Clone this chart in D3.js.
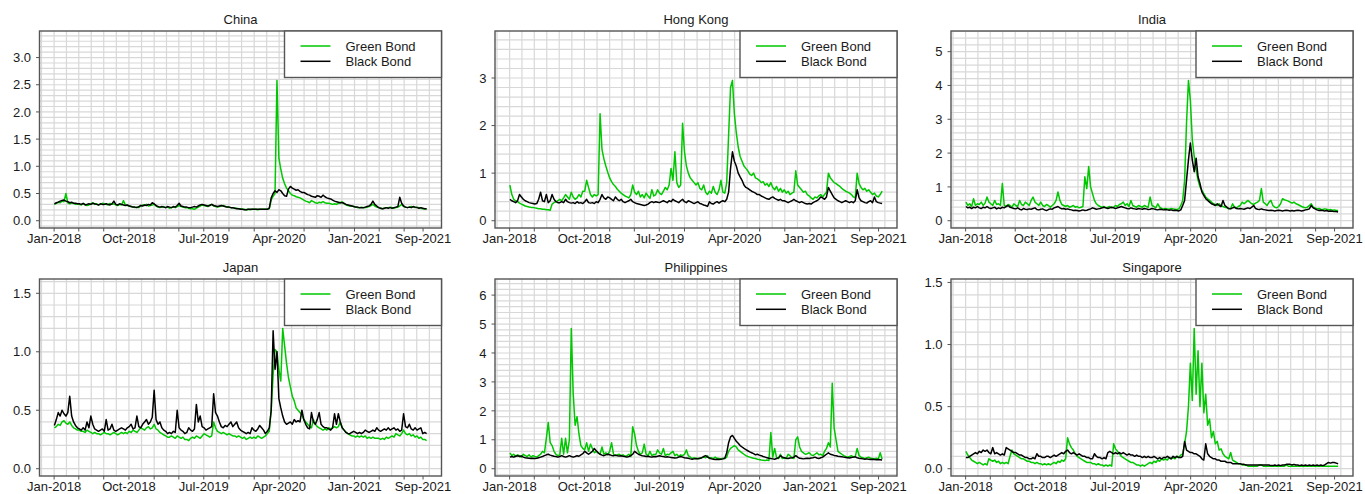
<!DOCTYPE html>
<html>
<head>
<meta charset="utf-8">
<script src="https://cdn.jsdelivr.net/npm/d3@7"></script>
<style>
  html, body { margin: 0; padding: 0; background: #fff; }
  svg { display: block; font-family: "Liberation Sans", Arial, sans-serif; }
</style>
</head>
<body>
<svg id="chart" width="1365" height="494"></svg>
<script>
// ============================================
// DATA (weekly readings, 2018-01-02 .. 2021-09-21)
// ============================================

const firstObs = new Date(2018, 0, 2);
const weeks = d3.range(195).map(i => d3.timeDay.offset(firstObs, 7 * i));

const titles = ['China', 'Hong Kong', 'India', 'Japan', 'Philippines', 'Singapore'];
const yTickStep = [0.5, 1, 1, 0.5, 1, 0.5];
const yTickDecimals = [1, 0, 0, 1, 0, 1];

const xLabelText = ['Jan-2018', 'Oct-2018', 'Jul-2019', 'Apr-2020', 'Jan-2021', 'Sep-2021'];
const xLabelDates = ['2018-01-01', '2018-10-01', '2019-07-01', '2020-04-01', '2021-01-01', '2021-09-08'];

const legendLabels = ['Green Bond', 'Black Bond'];

const chinaGreen = [
  0.30,0.32,0.34,0.33,0.36,0.35,0.50,0.33,0.31,0.33,0.32,0.30,0.31,
  0.30,0.29,0.31,0.30,0.28,0.29,0.31,0.33,0.30,0.31,0.29,0.30,0.32,
  0.31,0.30,0.29,0.32,0.30,0.31,0.29,0.28,0.30,0.29,0.37,0.29,0.28,
  0.27,0.26,0.25,0.24,0.25,0.24,0.27,0.29,0.28,0.30,0.27,0.28,0.29,
  0.30,0.27,0.25,0.24,0.25,0.26,0.24,0.25,0.23,0.24,0.25,0.24,0.26,
  0.28,0.26,0.25,0.24,0.24,0.23,0.22,0.22,0.21,0.23,0.25,0.27,0.29,
  0.28,0.27,0.26,0.29,0.30,0.27,0.26,0.25,0.26,0.27,0.28,0.26,0.25,
  0.25,0.24,0.24,0.23,0.23,0.22,0.22,0.21,0.21,0.20,0.21,0.20,0.21,
  0.21,0.21,0.20,0.21,0.21,0.21,0.21,0.21,0.22,0.38,0.45,0.50,2.58,
  1.15,0.95,0.78,0.68,0.60,0.55,0.50,0.47,0.46,0.44,0.43,0.42,0.40,
  0.38,0.36,0.35,0.33,0.37,0.35,0.33,0.32,0.34,0.33,0.35,0.33,0.32,
  0.32,0.31,0.30,0.31,0.30,0.32,0.33,0.35,0.31,0.29,0.28,0.27,0.27,
  0.26,0.25,0.24,0.24,0.25,0.24,0.24,0.25,0.26,0.28,0.30,0.27,0.25,
  0.24,0.23,0.22,0.23,0.24,0.24,0.25,0.24,0.23,0.24,0.25,0.27,0.30,
  0.26,0.25,0.24,0.25,0.26,0.25,0.24,0.25,0.24,0.23,0.22,0.22,0.21
];
const chinaBlack = [
  0.31,0.33,0.34,0.36,0.37,0.38,0.36,0.35,0.33,0.34,0.32,0.32,0.31,
  0.31,0.30,0.32,0.29,0.30,0.31,0.30,0.32,0.31,0.30,0.29,0.31,0.30,
  0.30,0.31,0.30,0.29,0.31,0.36,0.30,0.29,0.31,0.30,0.29,0.28,0.29,
  0.27,0.26,0.25,0.25,0.24,0.26,0.28,0.27,0.29,0.28,0.30,0.29,0.33,
  0.31,0.28,0.26,0.25,0.26,0.25,0.24,0.26,0.25,0.24,0.26,0.25,0.28,
  0.32,0.27,0.26,0.25,0.25,0.24,0.24,0.25,0.26,0.25,0.27,0.29,0.30,
  0.29,0.28,0.27,0.28,0.30,0.28,0.27,0.26,0.27,0.28,0.27,0.26,0.25,
  0.25,0.24,0.24,0.23,0.22,0.22,0.21,0.21,0.20,0.20,0.21,0.21,0.21,
  0.21,0.21,0.21,0.21,0.21,0.21,0.21,0.21,0.23,0.42,0.50,0.55,0.52,
  0.57,0.55,0.50,0.46,0.45,0.58,0.63,0.60,0.58,0.56,0.57,0.54,0.52,
  0.52,0.50,0.48,0.47,0.45,0.44,0.43,0.46,0.45,0.43,0.47,0.44,0.42,
  0.41,0.40,0.38,0.36,0.35,0.34,0.33,0.33,0.32,0.30,0.29,0.28,0.27,
  0.26,0.25,0.25,0.24,0.24,0.24,0.25,0.26,0.27,0.30,0.36,0.30,0.27,
  0.24,0.23,0.22,0.23,0.24,0.23,0.24,0.23,0.24,0.25,0.26,0.43,0.32,
  0.27,0.25,0.24,0.25,0.24,0.26,0.25,0.24,0.23,0.24,0.23,0.22,0.22
];

const hongKongGreen = [
  0.75,0.55,0.45,0.42,0.40,0.37,0.35,0.33,0.31,0.30,0.29,0.28,0.28,
  0.27,0.26,0.25,0.25,0.24,0.24,0.23,0.23,0.22,0.35,0.38,0.40,0.42,
  0.45,0.42,0.48,0.55,0.50,0.45,0.60,0.50,0.45,0.48,0.55,0.50,0.62,
  0.62,0.85,0.70,0.55,0.50,0.55,0.52,0.55,2.25,1.50,1.30,1.15,1.02,
  0.90,0.82,0.76,0.72,0.66,0.62,0.58,0.55,0.52,0.50,0.48,0.55,0.75,
  0.60,0.55,0.62,0.50,0.55,0.48,0.58,0.52,0.47,0.65,0.52,0.55,0.65,
  0.58,0.55,0.62,0.70,0.65,0.75,1.10,0.85,1.45,0.80,0.70,0.75,2.05,
  1.45,1.15,1.00,0.90,0.85,0.80,0.75,0.80,0.68,0.65,0.75,0.60,0.55,
  0.62,0.58,0.72,0.60,0.55,0.65,0.85,0.60,0.58,0.80,1.80,2.80,2.95,
  2.25,1.85,1.55,1.35,1.25,1.15,1.10,1.05,0.98,0.95,1.00,0.90,0.88,
  0.85,0.80,0.82,0.75,0.78,0.72,0.80,0.70,0.65,0.72,0.62,0.68,0.60,
  0.65,0.58,0.62,0.55,0.58,0.60,1.05,0.75,0.70,0.65,0.60,0.62,0.55,
  0.52,0.48,0.45,0.50,0.48,0.52,0.55,0.50,0.55,0.60,1.00,0.90,0.85,
  0.80,0.78,0.75,0.72,0.68,0.65,0.62,0.60,0.58,0.55,0.50,0.48,1.00,
  0.78,0.70,0.65,0.68,0.62,0.65,0.60,0.55,0.58,0.52,0.50,0.55,0.62
];
const hongKongBlack = [
  0.45,0.42,0.40,0.38,0.42,0.55,0.50,0.45,0.42,0.40,0.38,0.37,0.36,
  0.35,0.36,0.45,0.60,0.42,0.40,0.55,0.38,0.42,0.55,0.45,0.40,0.38,
  0.38,0.40,0.38,0.45,0.40,0.38,0.37,0.38,0.36,0.40,0.37,0.38,0.36,
  0.40,0.45,0.38,0.37,0.38,0.36,0.40,0.38,0.45,0.55,0.48,0.45,0.50,
  0.48,0.45,0.42,0.50,0.45,0.42,0.45,0.40,0.38,0.40,0.42,0.45,0.40,
  0.38,0.36,0.35,0.34,0.33,0.32,0.33,0.35,0.38,0.40,0.38,0.40,0.39,
  0.38,0.40,0.42,0.40,0.38,0.42,0.40,0.45,0.42,0.40,0.38,0.42,0.45,
  0.40,0.38,0.42,0.40,0.38,0.36,0.38,0.40,0.36,0.35,0.33,0.32,0.30,
  0.40,0.36,0.35,0.38,0.40,0.37,0.40,0.42,0.40,0.45,0.60,1.10,1.45,
  1.25,1.15,1.00,0.92,0.85,0.75,0.70,0.68,0.65,0.62,0.60,0.58,0.55,
  0.55,0.52,0.50,0.48,0.46,0.45,0.48,0.50,0.47,0.45,0.43,0.45,0.42,
  0.42,0.40,0.38,0.40,0.42,0.45,0.42,0.40,0.38,0.40,0.38,0.36,0.35,
  0.36,0.35,0.38,0.40,0.42,0.45,0.50,0.48,0.45,0.50,0.70,0.62,0.55,
  0.48,0.45,0.42,0.40,0.38,0.40,0.42,0.40,0.38,0.40,0.38,0.42,0.65,
  0.48,0.42,0.40,0.38,0.37,0.40,0.42,0.38,0.50,0.40,0.38,0.37,0.36
];

const indiaGreen = [
  0.55,0.45,0.50,0.42,0.65,0.45,0.50,0.48,0.55,0.45,0.52,0.70,0.55,
  0.50,0.45,0.60,0.48,0.50,0.45,1.10,0.45,0.42,0.48,0.45,0.40,0.50,
  0.45,0.42,0.60,0.48,0.45,0.55,0.50,0.45,0.60,0.70,0.55,0.50,0.45,
  0.55,0.45,0.42,0.48,0.45,0.40,0.45,0.50,0.60,0.85,0.60,0.48,0.45,
  0.42,0.45,0.40,0.42,0.45,0.40,0.42,0.38,0.40,0.42,1.30,0.95,1.60,
  1.00,0.80,0.60,0.50,0.45,0.42,0.40,0.42,0.38,0.40,0.42,0.38,0.40,
  0.45,0.42,0.48,0.50,0.55,0.45,0.50,0.42,0.60,0.45,0.42,0.40,0.45,
  0.42,0.40,0.45,0.42,0.40,0.70,0.45,0.42,0.38,0.50,0.40,0.36,0.35,
  0.36,0.35,0.34,0.36,0.35,0.34,0.33,0.35,0.45,0.60,1.20,2.90,4.15,
  3.55,2.40,1.90,1.50,1.20,1.00,0.90,0.80,0.70,0.65,0.60,0.55,0.50,
  0.48,0.45,0.50,0.45,0.42,0.40,0.38,0.35,0.36,0.50,0.40,0.38,0.42,
  0.45,0.55,0.50,0.55,0.60,0.55,0.50,0.48,0.52,0.55,0.60,0.95,0.55,
  0.50,0.45,0.55,0.60,0.45,0.40,0.38,0.42,0.50,0.65,0.62,0.60,0.58,
  0.55,0.52,0.55,0.50,0.48,0.45,0.42,0.40,0.38,0.40,0.45,0.50,0.40,
  0.38,0.35,0.36,0.34,0.33,0.35,0.34,0.32,0.33,0.31,0.32,0.30,0.30
];
const indiaBlack = [
  0.42,0.38,0.40,0.36,0.40,0.38,0.42,0.38,0.36,0.40,0.38,0.42,0.38,
  0.36,0.38,0.40,0.35,0.38,0.36,0.40,0.38,0.42,0.45,0.40,0.38,0.36,
  0.35,0.38,0.34,0.32,0.36,0.34,0.33,0.35,0.34,0.36,0.38,0.33,0.32,
  0.34,0.35,0.32,0.30,0.33,0.35,0.34,0.38,0.40,0.42,0.38,0.35,0.36,
  0.34,0.35,0.33,0.32,0.30,0.31,0.30,0.29,0.30,0.32,0.30,0.31,0.33,
  0.35,0.38,0.36,0.34,0.35,0.36,0.38,0.40,0.38,0.36,0.38,0.40,0.38,
  0.36,0.38,0.40,0.42,0.40,0.38,0.36,0.35,0.38,0.36,0.35,0.34,0.36,
  0.35,0.34,0.36,0.35,0.33,0.34,0.36,0.35,0.33,0.32,0.34,0.33,0.32,
  0.33,0.32,0.31,0.32,0.30,0.31,0.30,0.29,0.32,0.45,0.60,1.20,1.80,
  2.30,1.80,1.45,1.85,1.30,1.10,0.85,0.75,0.65,0.60,0.55,0.50,0.48,
  0.45,0.50,0.45,0.42,0.60,0.45,0.40,0.36,0.35,0.38,0.40,0.36,0.35,
  0.36,0.35,0.34,0.36,0.38,0.36,0.40,0.45,0.36,0.34,0.33,0.35,0.33,
  0.32,0.31,0.30,0.31,0.30,0.29,0.30,0.31,0.30,0.29,0.30,0.31,0.30,
  0.29,0.30,0.29,0.30,0.31,0.30,0.29,0.30,0.32,0.33,0.35,0.45,0.38,
  0.35,0.32,0.30,0.31,0.30,0.29,0.30,0.28,0.29,0.28,0.27,0.27,0.26
];

const japanGreen = [
  0.35,0.36,0.38,0.37,0.40,0.41,0.39,0.38,0.40,0.37,0.35,0.34,0.33,
  0.33,0.32,0.32,0.31,0.33,0.32,0.31,0.30,0.31,0.30,0.30,0.29,0.30,
  0.31,0.30,0.30,0.29,0.30,0.31,0.30,0.29,0.30,0.31,0.30,0.31,0.30,
  0.32,0.31,0.33,0.32,0.31,0.33,0.35,0.34,0.33,0.35,0.36,0.34,0.35,
  0.38,0.34,0.33,0.31,0.30,0.29,0.28,0.27,0.27,0.28,0.27,0.26,0.28,
  0.27,0.26,0.27,0.25,0.25,0.24,0.26,0.27,0.26,0.28,0.27,0.26,0.28,
  0.30,0.29,0.28,0.27,0.28,0.40,0.35,0.32,0.31,0.30,0.31,0.30,0.29,
  0.30,0.29,0.28,0.28,0.27,0.28,0.27,0.26,0.27,0.25,0.26,0.27,0.26,
  0.27,0.26,0.28,0.27,0.26,0.27,0.28,0.30,0.32,0.50,0.80,1.02,1.00,
  0.85,0.75,1.20,1.05,0.90,0.78,0.70,0.62,0.58,0.52,0.50,0.48,0.46,
  0.42,0.40,0.38,0.36,0.35,0.42,0.38,0.36,0.35,0.34,0.33,0.34,0.33,
  0.35,0.34,0.35,0.36,0.35,0.36,0.40,0.35,0.33,0.31,0.30,0.29,0.28,
  0.28,0.27,0.28,0.27,0.28,0.27,0.28,0.26,0.27,0.26,0.27,0.26,0.26,
  0.26,0.25,0.26,0.25,0.27,0.26,0.27,0.28,0.27,0.30,0.29,0.28,0.30,
  0.33,0.30,0.29,0.30,0.28,0.29,0.27,0.28,0.26,0.27,0.25,0.25,0.24
];
const japanBlack = [
  0.37,0.42,0.48,0.45,0.50,0.47,0.45,0.48,0.62,0.45,0.40,0.37,0.35,
  0.34,0.33,0.35,0.33,0.40,0.35,0.45,0.38,0.34,0.33,0.32,0.33,0.34,
  0.32,0.42,0.33,0.34,0.38,0.33,0.32,0.33,0.34,0.35,0.34,0.33,0.35,
  0.36,0.38,0.34,0.35,0.45,0.36,0.35,0.38,0.40,0.42,0.38,0.40,0.44,
  0.67,0.42,0.38,0.40,0.35,0.33,0.32,0.30,0.31,0.30,0.32,0.31,0.50,
  0.35,0.33,0.32,0.30,0.31,0.35,0.33,0.32,0.34,0.55,0.40,0.45,0.36,
  0.35,0.33,0.34,0.35,0.36,0.64,0.48,0.45,0.40,0.36,0.35,0.37,0.36,
  0.38,0.40,0.36,0.38,0.40,0.35,0.33,0.32,0.31,0.30,0.31,0.30,0.35,
  0.33,0.32,0.34,0.37,0.35,0.33,0.30,0.32,0.35,0.50,1.18,0.85,1.00,
  0.60,0.52,0.45,0.40,0.38,0.39,0.40,0.38,0.42,0.40,0.41,0.40,0.50,
  0.42,0.38,0.35,0.34,0.48,0.40,0.38,0.42,0.48,0.38,0.36,0.35,0.35,
  0.34,0.33,0.35,0.47,0.38,0.47,0.40,0.35,0.33,0.31,0.30,0.30,0.31,
  0.32,0.31,0.30,0.31,0.30,0.31,0.33,0.32,0.31,0.32,0.33,0.32,0.35,
  0.33,0.32,0.33,0.34,0.33,0.35,0.33,0.34,0.35,0.33,0.34,0.32,0.33,
  0.47,0.36,0.35,0.38,0.34,0.33,0.35,0.33,0.34,0.35,0.30,0.31,0.30
];

const philippinesGreen = [
  0.55,0.45,0.50,0.42,0.48,0.45,0.40,0.50,0.45,0.42,0.48,0.40,0.45,
  0.42,0.40,0.45,0.50,0.60,0.55,1.05,1.60,0.90,0.80,0.60,0.50,0.45,
  0.48,1.05,0.50,1.05,0.55,1.00,4.85,2.60,1.50,1.80,1.20,0.80,0.70,
  0.65,0.90,0.60,0.85,0.70,0.55,0.60,0.55,0.50,0.75,0.50,0.55,0.48,
  0.60,0.90,0.50,0.45,0.48,0.50,0.45,0.48,0.42,0.45,0.50,0.42,1.45,
  1.20,0.80,0.60,0.50,0.55,0.85,0.50,0.45,0.60,0.45,0.50,0.48,0.65,
  0.55,0.50,0.70,0.45,0.50,0.48,0.55,0.60,0.45,0.50,0.42,0.48,0.45,
  0.50,0.65,0.45,0.40,0.35,0.38,0.35,0.36,0.35,0.38,0.40,0.38,0.45,
  0.35,0.38,0.35,0.40,0.36,0.35,0.34,0.36,0.35,0.40,0.60,0.70,0.75,
  0.80,0.75,0.65,0.60,0.55,0.50,0.45,0.42,0.40,0.38,0.36,0.35,0.33,
  0.32,0.30,0.29,0.28,0.30,0.28,1.25,0.40,0.70,0.38,0.35,0.50,0.35,
  0.38,0.35,0.50,0.45,0.38,0.35,1.00,1.10,0.75,0.60,0.55,0.50,0.52,
  0.55,0.48,0.45,0.50,0.55,0.48,0.50,0.45,0.60,0.70,0.90,0.75,2.95,
  1.40,1.00,0.60,0.55,0.50,0.45,0.42,0.40,0.42,0.45,0.40,0.42,0.70,
  0.45,0.40,0.38,0.35,0.38,0.40,0.36,0.35,0.34,0.36,0.33,0.55,0.33
];
const philippinesBlack = [
  0.40,0.42,0.40,0.43,0.45,0.42,0.44,0.40,0.38,0.37,0.36,0.35,0.36,
  0.35,0.36,0.38,0.40,0.42,0.45,0.48,0.50,0.47,0.45,0.43,0.42,0.40,
  0.42,0.45,0.42,0.40,0.42,0.45,0.42,0.40,0.42,0.45,0.43,0.48,0.52,
  0.60,0.55,0.50,0.55,0.60,0.70,0.62,0.55,0.50,0.47,0.45,0.48,0.50,
  0.48,0.46,0.45,0.47,0.45,0.44,0.45,0.43,0.42,0.40,0.42,0.45,0.50,
  0.60,0.55,0.50,0.47,0.45,0.44,0.42,0.43,0.41,0.40,0.42,0.41,0.43,
  0.45,0.43,0.42,0.40,0.41,0.40,0.39,0.38,0.37,0.38,0.40,0.42,0.40,
  0.38,0.37,0.36,0.34,0.33,0.34,0.35,0.34,0.36,0.38,0.42,0.45,0.40,
  0.37,0.34,0.33,0.32,0.33,0.32,0.33,0.34,0.36,0.55,0.90,1.10,1.15,
  1.05,0.95,0.88,0.80,0.75,0.70,0.66,0.62,0.58,0.55,0.52,0.48,0.50,
  0.47,0.45,0.42,0.40,0.38,0.36,0.35,0.34,0.33,0.35,0.38,0.45,0.40,
  0.38,0.36,0.35,0.37,0.38,0.40,0.45,0.40,0.36,0.35,0.34,0.35,0.36,
  0.35,0.37,0.38,0.40,0.37,0.35,0.38,0.40,0.45,0.50,0.55,0.50,0.48,
  0.46,0.45,0.43,0.42,0.41,0.40,0.39,0.38,0.37,0.39,0.40,0.41,0.38,
  0.36,0.35,0.34,0.33,0.34,0.33,0.32,0.33,0.32,0.31,0.32,0.31,0.30
];

const singaporeGreen = [
  0.14,0.11,0.09,0.07,0.06,0.05,0.04,0.05,0.04,0.03,0.04,0.03,0.08,
  0.07,0.06,0.07,0.05,0.06,0.04,0.05,0.04,0.05,0.04,0.10,0.15,0.12,
  0.11,0.10,0.09,0.08,0.08,0.07,0.06,0.06,0.05,0.05,0.04,0.05,0.04,
  0.04,0.03,0.04,0.03,0.04,0.03,0.04,0.05,0.04,0.06,0.05,0.07,0.06,
  0.08,0.25,0.20,0.17,0.15,0.12,0.10,0.09,0.08,0.07,0.06,0.05,0.05,
  0.05,0.04,0.04,0.03,0.04,0.03,0.03,0.02,0.03,0.02,0.03,0.02,0.20,
  0.16,0.14,0.12,0.10,0.09,0.08,0.07,0.06,0.05,0.05,0.04,0.03,0.03,
  0.02,0.03,0.02,0.03,0.04,0.05,0.04,0.06,0.05,0.07,0.06,0.08,0.07,
  0.08,0.07,0.09,0.08,0.09,0.08,0.10,0.09,0.11,0.12,0.20,0.30,0.50,
  0.85,0.55,1.13,0.60,0.95,0.50,0.85,0.45,0.60,0.35,0.40,0.25,0.30,
  0.20,0.22,0.15,0.16,0.12,0.10,0.09,0.08,0.13,0.07,0.06,0.05,0.04,
  0.04,0.03,0.03,0.03,0.02,0.02,0.02,0.02,0.02,0.02,0.03,0.03,0.02,
  0.02,0.02,0.02,0.02,0.02,0.02,0.02,0.02,0.02,0.02,0.02,0.03,0.02,
  0.02,0.02,0.02,0.02,0.02,0.02,0.02,0.02,0.02,0.02,0.02,0.02,0.02,
  0.02,0.02,0.02,0.02,0.02,0.02,0.02,0.02,0.02,0.02,0.02,0.02,0.02
];
const singaporeBlack = [
  0.09,0.09,0.10,0.11,0.12,0.13,0.12,0.14,0.13,0.15,0.14,0.15,0.13,
  0.12,0.17,0.12,0.13,0.12,0.11,0.12,0.11,0.17,0.16,0.15,0.14,0.13,
  0.13,0.12,0.11,0.11,0.10,0.09,0.09,0.08,0.08,0.09,0.08,0.12,0.10,
  0.10,0.09,0.09,0.10,0.10,0.09,0.10,0.11,0.10,0.11,0.12,0.13,0.12,
  0.14,0.15,0.13,0.12,0.13,0.12,0.11,0.12,0.11,0.10,0.10,0.09,0.09,
  0.08,0.08,0.12,0.10,0.09,0.09,0.08,0.09,0.08,0.13,0.14,0.13,0.12,
  0.13,0.12,0.13,0.12,0.13,0.12,0.11,0.12,0.11,0.11,0.10,0.11,0.10,
  0.10,0.09,0.10,0.09,0.10,0.09,0.09,0.10,0.09,0.08,0.09,0.08,0.09,
  0.09,0.10,0.09,0.08,0.10,0.09,0.10,0.09,0.09,0.10,0.22,0.15,0.14,
  0.13,0.13,0.12,0.12,0.11,0.10,0.08,0.07,0.20,0.12,0.10,0.09,0.08,
  0.08,0.07,0.07,0.06,0.06,0.06,0.05,0.05,0.05,0.04,0.04,0.04,0.04,
  0.04,0.035,0.035,0.03,0.03,0.03,0.03,0.03,0.03,0.03,0.03,0.03,0.03,
  0.03,0.03,0.03,0.025,0.025,0.03,0.025,0.03,0.025,0.03,0.03,0.035,0.035,
  0.035,0.03,0.035,0.03,0.03,0.025,0.03,0.025,0.03,0.025,0.03,0.025,0.03,
  0.025,0.03,0.025,0.03,0.025,0.03,0.04,0.05,0.045,0.05,0.05,0.045,0.04
];

const greenSeries = [chinaGreen, hongKongGreen, indiaGreen, japanGreen, philippinesGreen, singaporeGreen];
const blackSeries = [chinaBlack, hongKongBlack, indiaBlack, japanBlack, philippinesBlack, singaporeBlack];

// ============================================
// LAYOUT
// ============================================

const colLeft = [39.5, 495, 951];
const rowTop = [31, 279];
const boxW = 402;
const boxH = 197;

const GREEN = '#00c800';
const FRAME = '#555555';
const GRID = '#d8d8d8';
const INK = '#1a1a1a';

const svg = d3.select('#chart');
const parseDay = d3.timeParse('%Y-%m-%d');

titles.forEach((title, p) => {
    const left = colLeft[p % 3];
    const top = rowTop[Math.floor(p / 3)];
    const right = left + boxW;
    const bottom = top + boxH;

    const green = greenSeries[p];
    const black = blackSeries[p];

    // x scale with R-style 4% padding
    const t0 = weeks[0].getTime();
    const t1 = weeks[weeks.length - 1].getTime();
    const padT = (t1 - t0) * 0.04;
    const x = d3.scaleTime()
        .domain([new Date(t0 - padT), new Date(t1 + padT)])
        .range([left, right]);

    // y scale: 0 .. 1.3 * max, also padded
    const ymax = 1.3 * d3.max(green.concat(black));
    const y = d3.scaleLinear()
        .domain([-0.04 * ymax, ymax * 1.04])
        .range([bottom, top]);

    const g = svg.append('g');

    // grid: horizontal every step/5
    const minor = yTickStep[p] / 5;
    const [d0, d1] = y.domain();
    const hLines = d3.range(Math.ceil(d0 / minor), Math.floor(d1 / minor) + 1).map(k => k * minor);
    g.selectAll('.hgrid')
        .data(hLines)
        .enter()
        .append('line')
        .attr('x1', left).attr('x2', right)
        .attr('y1', d => y(d)).attr('y2', d => y(d))
        .attr('stroke', GRID)
        .attr('stroke-width', 1.2);

    // grid: vertical every 1.5 months
    const quarters = d3.timeMonth.every(3).range(new Date(2017, 9, 1), new Date(2022, 0, 2));
    const vDates = [];
    quarters.forEach((q, i) => {
        vDates.push(q);
        if (i < quarters.length - 1) vDates.push(new Date((q.getTime() + quarters[i + 1].getTime()) / 2));
    });
    g.selectAll('.vgrid')
        .data(vDates.filter(d => x(d) > left + 0.5 && x(d) < right - 0.5))
        .enter()
        .append('line')
        .attr('x1', d => x(d)).attr('x2', d => x(d))
        .attr('y1', top).attr('y2', bottom)
        .attr('stroke', GRID)
        .attr('stroke-width', 1.2);

    // series lines
    const line = d3.line()
        .x((d, i) => x(weeks[i]))
        .y(d => y(d));

    g.append('path')
        .datum(green)
        .attr('d', line)
        .attr('fill', 'none')
        .attr('stroke', GREEN)
        .attr('stroke-width', 1.5)
        .attr('stroke-linejoin', 'round');

    g.append('path')
        .datum(black)
        .attr('d', line)
        .attr('fill', 'none')
        .attr('stroke', '#000')
        .attr('stroke-width', 1.5)
        .attr('stroke-linejoin', 'round');

    // frame
    g.append('rect')
        .attr('x', left).attr('y', top)
        .attr('width', boxW).attr('height', boxH)
        .attr('fill', 'none')
        .attr('stroke', FRAME)
        .attr('stroke-width', 1.4);

    // y axis
    const yTicks = d3.range(0, d1 + 1e-9, yTickStep[p]);
    const fmt = d3.format('.' + yTickDecimals[p] + 'f');
    g.selectAll('.ytick')
        .data(yTicks)
        .enter()
        .append('line')
        .attr('x1', left - 3.5).attr('x2', left)
        .attr('y1', d => y(d)).attr('y2', d => y(d))
        .attr('stroke', FRAME)
        .attr('stroke-width', 1);
    g.selectAll('.ylab')
        .data(yTicks)
        .enter()
        .append('text')
        .attr('x', left - 8.5)
        .attr('y', d => y(d))
        .attr('dy', '0.36em')
        .attr('text-anchor', 'end')
        .attr('font-size', '13px')
        .attr('fill', INK)
        .text(d => fmt(d));

    // x axis
    const xTicks = d3.timeMonth.every(3).range(new Date(2018, 0, 1), new Date(2021, 7, 1))
        .concat([parseDay(xLabelDates[xLabelDates.length - 1])]);
    g.selectAll('.xtick')
        .data(xTicks)
        .enter()
        .append('line')
        .attr('x1', d => x(d)).attr('x2', d => x(d))
        .attr('y1', bottom).attr('y2', bottom + 3.5)
        .attr('stroke', FRAME)
        .attr('stroke-width', 1);
    g.selectAll('.xlab')
        .data(xLabelText)
        .enter()
        .append('text')
        .attr('x', (d, i) => x(parseDay(xLabelDates[i])))
        .attr('y', bottom + 14.7)
        .attr('text-anchor', 'middle')
        .attr('font-size', '13px')
        .attr('fill', INK)
        .text(d => d);

    // title
    g.append('text')
        .attr('x', (left + right) / 2)
        .attr('y', top - 7)
        .attr('text-anchor', 'middle')
        .attr('font-size', '13px')
        .attr('fill', INK)
        .text(title);

    // legend
    const lgW = 157, lgH = 46.5;
    const lg = g.append('g').attr('transform', `translate(${right - lgW}, ${top})`);
    lg.append('rect')
        .attr('width', lgW).attr('height', lgH)
        .attr('fill', '#fff')
        .attr('stroke', FRAME)
        .attr('stroke-width', 1.4);
    [GREEN, '#000'].forEach((c, i) => {
        const ly = 15 + i * 15.3;
        lg.append('line')
            .attr('x1', 16).attr('x2', 46)
            .attr('y1', ly).attr('y2', ly)
            .attr('stroke', c)
            .attr('stroke-width', 1.5);
        lg.append('text')
            .attr('x', 61)
            .attr('y', ly)
            .attr('dy', '0.36em')
            .attr('font-size', '13px')
            .attr('fill', INK)
            .text(legendLabels[i]);
    });
});
</script>
</body>
</html>
